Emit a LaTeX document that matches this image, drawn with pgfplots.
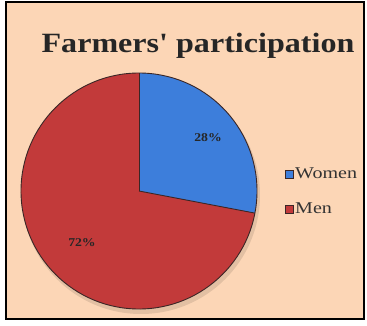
\documentclass[border=0pt]{standalone}
\usepackage{pgfplots}
\usepackage{pgfplotstable}
\pgfplotsset{compat=1.18}
\usepackage{fontspec}
\setmainfont{Liberation Serif}
\newfontfamily\widefont[FakeStretch=1.15]{Liberation Serif}
\newfontfamily\widerfont[FakeStretch=1.22]{Liberation Serif}
\definecolor{bgpeach}{HTML}{FCD6B6}
\definecolor{womenblue}{HTML}{3D7EDB}
\definecolor{menred}{HTML}{C23A3A}
\definecolor{edgedark}{HTML}{3A2626}
\pgfplotstableread{
label value
Women 28
Men 72
}\piedata
\begin{document}
\begin{tikzpicture}
\begin{axis}[
  x=1bp, y=1bp,
  xmin=0, xmax=367, ymin=0, ymax=326,
  hide axis,
  clip=false,
]
% frame
\fill[white] (axis cs:0,0) rectangle (axis cs:367,326);
\fill[bgpeach] (axis cs:6,7) rectangle (axis cs:364,324);
\draw[black, line width=1.3pt] (axis cs:6,7) rectangle (axis cs:364,324);
% data
\pgfplotstablegetelem{0}{value}\of\piedata \let\vw\pgfplotsretval
\pgfplotstablegetelem{1}{value}\of\piedata \let\vm\pgfplotsretval
\pgfmathsetmacro{\aw}{90-3.6*\vw}
% shadow
\fill[black, opacity=0.10] (axis cs:141,131) circle[radius=119bp];
% slices
\fill[womenblue] (axis cs:139,135) -- ++(90:118bp) arc[start angle=90, end angle=\aw, radius=118bp] -- cycle;
\fill[menred] (axis cs:139,135) -- ++(\aw:118bp) arc[start angle=\aw, end angle=-270, radius=118bp] -- cycle;
\draw[edgedark, line width=0.9pt] (axis cs:139,135) circle[radius=118bp];
\draw[edgedark, line width=0.9pt] (axis cs:139,135) -- ++(90:118bp);
\draw[edgedark, line width=0.9pt] (axis cs:139,135) -- ++(\aw:118bp);
% labels
\node[font=\widefont\bfseries\fontsize{12}{14}\selectfont, text=black!85] at (axis cs:208,188) {\vw\%};
\node[font=\widefont\bfseries\fontsize{12}{14}\selectfont, text=black!85] at (axis cs:82,83) {\vm\%};
% title
\node[font=\widefont\bfseries\fontsize{28}{32}\selectfont, text=black!85] at (axis cs:198,280) {Farmers{\char"0027} participation};
% legend
\fill[womenblue] (axis cs:285,148) rectangle (axis cs:293,156);
\draw[edgedark, line width=0.4pt] (axis cs:285,148) rectangle (axis cs:293,156);
\node[anchor=west, inner sep=1pt, font=\widerfont\fontsize{16.5}{18}\selectfont, text=black!80] at (axis cs:294,152.5) {Women};
\fill[menred] (axis cs:285,113) rectangle (axis cs:293,121);
\draw[edgedark, line width=0.4pt] (axis cs:285,113) rectangle (axis cs:293,121);
\node[anchor=west, inner sep=1pt, font=\widerfont\fontsize{16.5}{18}\selectfont, text=black!80] at (axis cs:294,117.5) {Men};
\end{axis}
\end{tikzpicture}
\end{document}
